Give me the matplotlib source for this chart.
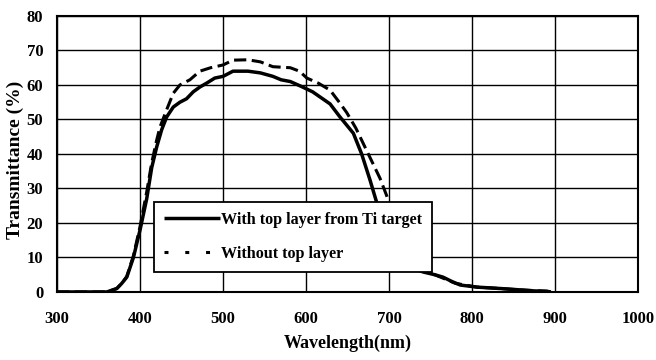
import matplotlib
matplotlib.use("Agg")
import matplotlib.pyplot as plt
from matplotlib.lines import Line2D

# Data
wl_with = [300, 360, 366, 372, 378, 384, 392, 400, 408, 414, 420, 426, 432, 440, 448,
           456, 464, 472, 480, 490, 500, 512, 530, 545, 560, 570, 581, 595, 608, 617,
           629, 640, 657, 667, 677, 690, 700, 710, 720, 730, 741, 755, 765, 776, 786,
           806, 834, 858, 875, 890, 895]
t_with = [0, 0, 0.5, 1, 2.5, 4.3, 10, 18, 27, 36, 42, 47, 50.7, 53.6, 55,
          56, 58, 59.4, 60.5, 62, 62.5, 64, 64, 63.5, 62.5, 61.5, 61, 59.5, 58, 56.5,
          54.5, 51, 46, 40, 32.5, 22, 15, 10.5, 8, 6.8, 5.8, 5, 4.3, 3, 2,
          1.4, 1, 0.6, 0.3, 0.2, 0]

wl_without = [300, 360, 366, 372, 378, 384, 392, 400, 408, 414, 420, 424, 432, 440, 448,
              460, 472, 485, 500, 512, 530, 545, 560, 581, 592, 601, 615, 629, 640, 649,
              660, 669, 680, 689, 697, 705, 715, 730, 745, 760, 780, 806, 834, 858, 890, 895]
t_without = [0, 0, 0.5, 1, 2.5, 4.5, 10.5, 19, 29, 37.4, 44, 47.8, 52.8, 57.6, 60,
             61.5, 64, 65, 65.8, 67.2, 67.3, 66.7, 65.3, 65, 64, 62, 60.5, 58.5, 55, 52,
             47.5, 43, 37.5, 33, 28, 22, 15, 9, 6, 4.5, 2.5, 1.4, 1, 0.6, 0.2, 0]

x_ticks = [300, 400, 500, 600, 700, 800, 900, 1000]
y_ticks = [0, 10, 20, 30, 40, 50, 60, 70, 80]

label_with = "With top layer from Ti target"
label_without = "Without top layer"

plt.rcParams['font.family'] = ['Liberation Serif', 'DejaVu Serif']
plt.rcParams['font.weight'] = 'bold'

fig = plt.figure(figsize=(6.56, 3.6), dpi=100)
ax = fig.add_axes([0.087, 0.189, 0.8856, 0.7666])

ax.plot(wl_with, t_with, color='black', lw=2.5, solid_capstyle='butt', zorder=3)
ax.plot(wl_without, t_without, color='black', lw=2.2, linestyle=(0, (4.0, 1.8)), zorder=3)

ax.set_xlim(300, 1000)
ax.set_ylim(0, 80)
ax.set_xticks(x_ticks)
ax.set_yticks(y_ticks)
ax.set_xticklabels([str(v) for v in x_ticks], fontsize=12, fontweight='bold')
ax.set_yticklabels([str(v) for v in y_ticks], fontsize=12, fontweight='bold')
ax.tick_params(length=0)
ax.tick_params(axis='x', pad=14)
ax.tick_params(axis='y', pad=10)
ax.grid(True, color='black', lw=1.0)
ax.set_axisbelow(True)
for s in ax.spines.values():
    s.set_linewidth(1.5)
    s.set_color('black')

ax.set_xlabel("Wavelength(nm)", fontsize=13, fontweight='bold', va='center')
ax.xaxis.set_label_coords(0.5, -0.185)
ax.set_ylabel("Transmittance (%)", fontsize=14, fontweight='bold', va='center')
ax.yaxis.set_label_coords(-0.072, 0.48)

handles = [Line2D([], [], color='black', lw=2.5, solid_capstyle='butt'),
           Line2D([], [], color='black', lw=2.2, linestyle=(0, (1.3, 5.5)))]
leg = ax.legend(handles, [label_with, label_without],
                loc='lower left', bbox_to_anchor=(0.167, 0.072), frameon=True, fancybox=False,
                edgecolor='black', framealpha=1,
                prop={'family': 'Liberation Serif', 'weight': 'bold', 'size': 11.6},
                handlelength=3.45, handletextpad=0.1, borderpad=0.62, labelspacing=1.15,
                borderaxespad=0)
leg.get_frame().set_linewidth(1.3)
leg.set_zorder(5)

fig.savefig("out.png", dpi=100)
